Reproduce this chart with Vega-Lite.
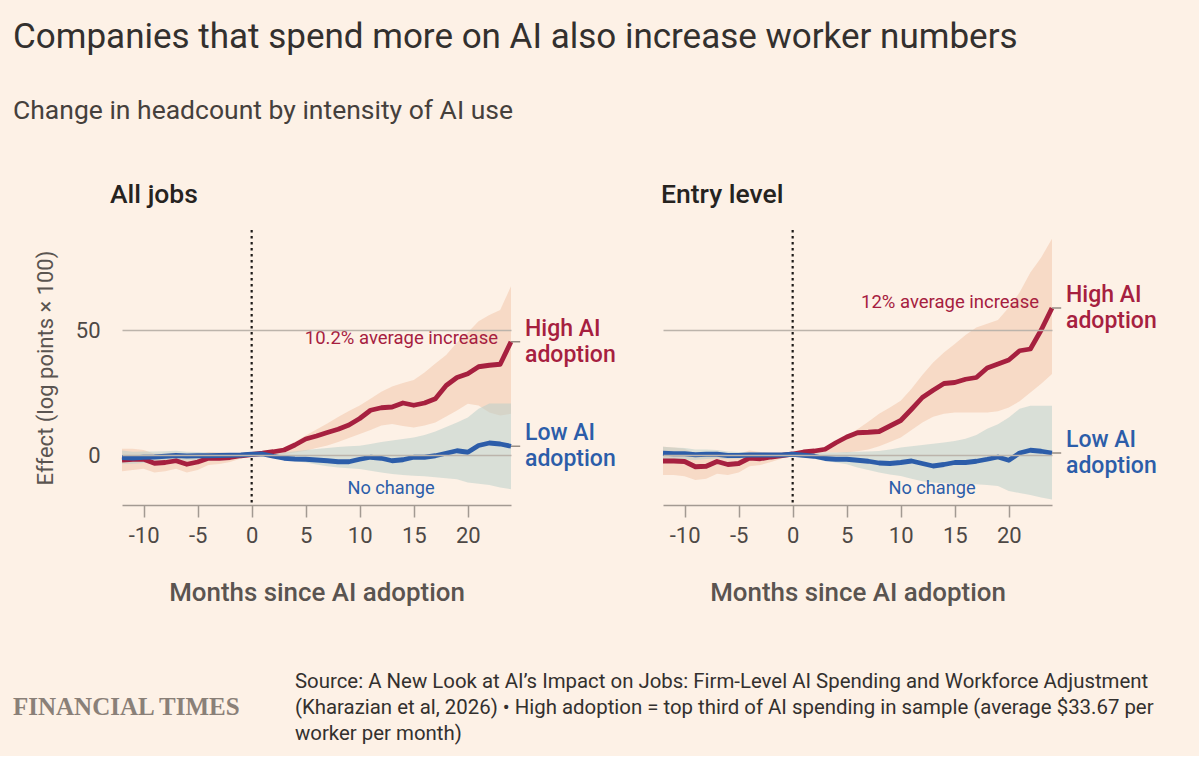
{
  "$schema": "https://vega.github.io/schema/vega-lite/v6.json",
  "background": "#fdf1e6",
  "padding": {"left": 13, "top": 19, "right": 42, "bottom": 11},
  "title": {
    "text": "Companies that spend more on AI also increase worker numbers",
    "subtitle": "Change in headcount by intensity of AI use",
    "anchor": "start",
    "font": "Roboto",
    "fontSize": 35,
    "fontWeight": "normal",
    "color": "#33302e",
    "subtitleFont": "Roboto",
    "subtitleFontSize": 26.5,
    "subtitleColor": "#45403c",
    "subtitlePadding": 43,
    "offset": 58
  },
  "config": {
    "view": {"stroke": null},
    "font": "Roboto",
    "axis": {"labelFont": "Roboto", "titleFont": "Roboto"},
    "title": {"font": "Roboto"}
  },
  "datasets": {
    "alljobs": [
      {"m": -12, "s": "High AI\nadoption", "est": -2, "lo": -6.5, "hi": 2.5},
      {"m": -11, "s": "High AI\nadoption", "est": -1.7, "lo": -6, "hi": 2.5},
      {"m": -10, "s": "High AI\nadoption", "est": -1.7, "lo": -5.5, "hi": 2},
      {"m": -9, "s": "High AI\nadoption", "est": -3.3, "lo": -7, "hi": 0.5},
      {"m": -8, "s": "High AI\nadoption", "est": -3, "lo": -6.5, "hi": 0.5},
      {"m": -7, "s": "High AI\nadoption", "est": -2.3, "lo": -5.5, "hi": 1},
      {"m": -6, "s": "High AI\nadoption", "est": -3.7, "lo": -7, "hi": -0.5},
      {"m": -5, "s": "High AI\nadoption", "est": -2.8, "lo": -6, "hi": 0.2},
      {"m": -4, "s": "High AI\nadoption", "est": -1.3, "lo": -4, "hi": 1.2},
      {"m": -3, "s": "High AI\nadoption", "est": -1.3, "lo": -3.6, "hi": 1},
      {"m": -2, "s": "High AI\nadoption", "est": -1, "lo": -2.8, "hi": 0.8},
      {"m": -1, "s": "High AI\nadoption", "est": -0.3, "lo": -1.4, "hi": 0.8},
      {"m": 0, "s": "High AI\nadoption", "est": 0.2, "lo": 0, "hi": 0.5},
      {"m": 1, "s": "High AI\nadoption", "est": 0.7, "lo": 0, "hi": 1.5},
      {"m": 2, "s": "High AI\nadoption", "est": 1.3, "lo": 0, "hi": 2.2},
      {"m": 3, "s": "High AI\nadoption", "est": 2, "lo": 0.3, "hi": 3},
      {"m": 4, "s": "High AI\nadoption", "est": 4, "lo": 1, "hi": 5.2},
      {"m": 5, "s": "High AI\nadoption", "est": 6.4, "lo": 1.7, "hi": 7.8},
      {"m": 6, "s": "High AI\nadoption", "est": 7.6, "lo": 2.8, "hi": 10.2},
      {"m": 7, "s": "High AI\nadoption", "est": 9, "lo": 3.8, "hi": 12.6},
      {"m": 8, "s": "High AI\nadoption", "est": 10.3, "lo": 5.2, "hi": 15.2},
      {"m": 9, "s": "High AI\nadoption", "est": 12, "lo": 6.8, "hi": 17.6},
      {"m": 10, "s": "High AI\nadoption", "est": 14.6, "lo": 8.4, "hi": 19.8},
      {"m": 11, "s": "High AI\nadoption", "est": 17.9, "lo": 10, "hi": 22.5},
      {"m": 12, "s": "High AI\nadoption", "est": 18.9, "lo": 11.8, "hi": 25.3},
      {"m": 13, "s": "High AI\nadoption", "est": 19.2, "lo": 12.4, "hi": 27.4},
      {"m": 14, "s": "High AI\nadoption", "est": 20.8, "lo": 11.6, "hi": 28.8},
      {"m": 15, "s": "High AI\nadoption", "est": 19.9, "lo": 11, "hi": 30},
      {"m": 16, "s": "High AI\nadoption", "est": 20.8, "lo": 11.8, "hi": 33},
      {"m": 17, "s": "High AI\nadoption", "est": 22.5, "lo": 13, "hi": 36.6},
      {"m": 18, "s": "High AI\nadoption", "est": 27.8, "lo": 15.4, "hi": 40},
      {"m": 19, "s": "High AI\nadoption", "est": 31, "lo": 17.8, "hi": 45},
      {"m": 20, "s": "High AI\nadoption", "est": 32.5, "lo": 20.5, "hi": 49},
      {"m": 21, "s": "High AI\nadoption", "est": 35.3, "lo": 19.8, "hi": 53.5},
      {"m": 22, "s": "High AI\nadoption", "est": 35.9, "lo": 17, "hi": 56},
      {"m": 23, "s": "High AI\nadoption", "est": 36.3, "lo": 15.8, "hi": 58},
      {"m": 24, "s": "High AI\nadoption", "est": 45.3, "lo": 16.5, "hi": 67.5},
      {"m": -12, "s": "Low AI\nadoption", "est": -1, "lo": -3.5, "hi": 1.8},
      {"m": -11, "s": "Low AI\nadoption", "est": -1.2, "lo": -3.5, "hi": 1.3},
      {"m": -10, "s": "Low AI\nadoption", "est": -0.9, "lo": -3.2, "hi": 1.4},
      {"m": -9, "s": "Low AI\nadoption", "est": -0.8, "lo": -3, "hi": 1.4},
      {"m": -8, "s": "Low AI\nadoption", "est": -0.5, "lo": -2.6, "hi": 1.5},
      {"m": -7, "s": "Low AI\nadoption", "est": -0.2, "lo": -2.2, "hi": 1.7},
      {"m": -6, "s": "Low AI\nadoption", "est": -0.4, "lo": -2.2, "hi": 1.3},
      {"m": -5, "s": "Low AI\nadoption", "est": -0.3, "lo": -1.9, "hi": 1.2},
      {"m": -4, "s": "Low AI\nadoption", "est": -0.3, "lo": -1.6, "hi": 1},
      {"m": -3, "s": "Low AI\nadoption", "est": -0.2, "lo": -1.3, "hi": 0.9},
      {"m": -2, "s": "Low AI\nadoption", "est": -0.1, "lo": -1, "hi": 0.8},
      {"m": -1, "s": "Low AI\nadoption", "est": 0, "lo": -0.6, "hi": 0.6},
      {"m": 0, "s": "Low AI\nadoption", "est": 0.3, "lo": 0, "hi": 0.6},
      {"m": 1, "s": "Low AI\nadoption", "est": 0.4, "lo": -0.5, "hi": 0.9},
      {"m": 2, "s": "Low AI\nadoption", "est": -0.5, "lo": -1.2, "hi": 0.8},
      {"m": 3, "s": "Low AI\nadoption", "est": -1.3, "lo": -1.8, "hi": 1},
      {"m": 4, "s": "Low AI\nadoption", "est": -1.6, "lo": -2.5, "hi": 1.5},
      {"m": 5, "s": "Low AI\nadoption", "est": -1.7, "lo": -3, "hi": 2},
      {"m": 6, "s": "Low AI\nadoption", "est": -2, "lo": -3.8, "hi": 2.4},
      {"m": 7, "s": "Low AI\nadoption", "est": -2.3, "lo": -4.5, "hi": 2.8},
      {"m": 8, "s": "Low AI\nadoption", "est": -2.7, "lo": -5, "hi": 3.2},
      {"m": 9, "s": "Low AI\nadoption", "est": -2.7, "lo": -5.3, "hi": 3.5},
      {"m": 10, "s": "Low AI\nadoption", "est": -1.7, "lo": -5.6, "hi": 3.7},
      {"m": 11, "s": "Low AI\nadoption", "est": -0.9, "lo": -6.3, "hi": 4.4},
      {"m": 12, "s": "Low AI\nadoption", "est": -1.3, "lo": -7, "hi": 5.2},
      {"m": 13, "s": "Low AI\nadoption", "est": -2.3, "lo": -7.6, "hi": 5.8},
      {"m": 14, "s": "Low AI\nadoption", "est": -1.9, "lo": -8, "hi": 6.4},
      {"m": 15, "s": "Low AI\nadoption", "est": -0.9, "lo": -8.3, "hi": 7},
      {"m": 16, "s": "Low AI\nadoption", "est": -0.9, "lo": -8.5, "hi": 8},
      {"m": 17, "s": "Low AI\nadoption", "est": -0.3, "lo": -8.9, "hi": 9.4},
      {"m": 18, "s": "Low AI\nadoption", "est": 0.7, "lo": -9.3, "hi": 11.2},
      {"m": 19, "s": "Low AI\nadoption", "est": 1.7, "lo": -9.7, "hi": 13},
      {"m": 20, "s": "Low AI\nadoption", "est": 1.1, "lo": -11, "hi": 15},
      {"m": 21, "s": "Low AI\nadoption", "est": 3.8, "lo": -11.5, "hi": 18.5},
      {"m": 22, "s": "Low AI\nadoption", "est": 4.8, "lo": -12, "hi": 20.6},
      {"m": 23, "s": "Low AI\nadoption", "est": 4.4, "lo": -13, "hi": 20.6},
      {"m": 24, "s": "Low AI\nadoption", "est": 3.5, "lo": -13.7, "hi": 20.6}
    ],
    "entry": [
      {"m": -12, "s": "High AI\nadoption", "est": -2.4, "lo": -8, "hi": 3.3},
      {"m": -11, "s": "High AI\nadoption", "est": -2.4, "lo": -8, "hi": 3},
      {"m": -10, "s": "High AI\nadoption", "est": -2.6, "lo": -8.5, "hi": 2.5},
      {"m": -9, "s": "High AI\nadoption", "est": -4.7, "lo": -10, "hi": 0.5},
      {"m": -8, "s": "High AI\nadoption", "est": -4.5, "lo": -9.5, "hi": 0.5},
      {"m": -7, "s": "High AI\nadoption", "est": -2.6, "lo": -7.5, "hi": 1.5},
      {"m": -6, "s": "High AI\nadoption", "est": -3.8, "lo": -8, "hi": 0.5},
      {"m": -5, "s": "High AI\nadoption", "est": -3.4, "lo": -7, "hi": 0.5},
      {"m": -4, "s": "High AI\nadoption", "est": -1.2, "lo": -4.5, "hi": 1.8},
      {"m": -3, "s": "High AI\nadoption", "est": -1.5, "lo": -4, "hi": 1.2},
      {"m": -2, "s": "High AI\nadoption", "est": -0.8, "lo": -2.8, "hi": 1},
      {"m": -1, "s": "High AI\nadoption", "est": -0.2, "lo": -1.4, "hi": 1},
      {"m": 0, "s": "High AI\nadoption", "est": 0.4, "lo": 0, "hi": 0.8},
      {"m": 1, "s": "High AI\nadoption", "est": 1.2, "lo": 0.3, "hi": 1.8},
      {"m": 2, "s": "High AI\nadoption", "est": 1.6, "lo": 0.6, "hi": 2.2},
      {"m": 3, "s": "High AI\nadoption", "est": 2.3, "lo": 1, "hi": 3},
      {"m": 4, "s": "High AI\nadoption", "est": 4.9, "lo": 1, "hi": 5},
      {"m": 5, "s": "High AI\nadoption", "est": 7.2, "lo": 1, "hi": 7.5},
      {"m": 6, "s": "High AI\nadoption", "est": 8.9, "lo": 1.5, "hi": 10.3},
      {"m": 7, "s": "High AI\nadoption", "est": 9.1, "lo": 2.2, "hi": 13.3},
      {"m": 8, "s": "High AI\nadoption", "est": 9.4, "lo": 3.5, "hi": 16.5},
      {"m": 9, "s": "High AI\nadoption", "est": 11.6, "lo": 5.2, "hi": 19},
      {"m": 10, "s": "High AI\nadoption", "est": 13.8, "lo": 7, "hi": 21.7},
      {"m": 11, "s": "High AI\nadoption", "est": 18.3, "lo": 10, "hi": 26.5},
      {"m": 12, "s": "High AI\nadoption", "est": 23, "lo": 13, "hi": 32},
      {"m": 13, "s": "High AI\nadoption", "est": 25.9, "lo": 15.3, "hi": 37},
      {"m": 14, "s": "High AI\nadoption", "est": 28.6, "lo": 16.5, "hi": 41},
      {"m": 15, "s": "High AI\nadoption", "est": 29, "lo": 17, "hi": 44.4},
      {"m": 16, "s": "High AI\nadoption", "est": 30.3, "lo": 17, "hi": 48},
      {"m": 17, "s": "High AI\nadoption", "est": 31, "lo": 17, "hi": 51},
      {"m": 18, "s": "High AI\nadoption", "est": 34.8, "lo": 17, "hi": 52.5},
      {"m": 19, "s": "High AI\nadoption", "est": 36.4, "lo": 17.5, "hi": 54},
      {"m": 20, "s": "High AI\nadoption", "est": 38, "lo": 19, "hi": 59},
      {"m": 21, "s": "High AI\nadoption", "est": 41.7, "lo": 21.5, "hi": 65},
      {"m": 22, "s": "High AI\nadoption", "est": 42.4, "lo": 25, "hi": 73},
      {"m": 23, "s": "High AI\nadoption", "est": 50, "lo": 28.5, "hi": 79},
      {"m": 24, "s": "High AI\nadoption", "est": 58.8, "lo": 32.4, "hi": 86.5},
      {"m": -12, "s": "Low AI\nadoption", "est": 0.7, "lo": -2, "hi": 3.3},
      {"m": -11, "s": "Low AI\nadoption", "est": 0.5, "lo": -2, "hi": 3},
      {"m": -10, "s": "Low AI\nadoption", "est": 0.5, "lo": -1.8, "hi": 2.8},
      {"m": -9, "s": "Low AI\nadoption", "est": 0.1, "lo": -2, "hi": 2.2},
      {"m": -8, "s": "Low AI\nadoption", "est": 0.3, "lo": -1.6, "hi": 2.2},
      {"m": -7, "s": "Low AI\nadoption", "est": 0.3, "lo": -1.4, "hi": 2},
      {"m": -6, "s": "Low AI\nadoption", "est": -0.2, "lo": -1.6, "hi": 1.4},
      {"m": -5, "s": "Low AI\nadoption", "est": -0.2, "lo": -1.4, "hi": 1.2},
      {"m": -4, "s": "Low AI\nadoption", "est": 0, "lo": -1, "hi": 1.2},
      {"m": -3, "s": "Low AI\nadoption", "est": 0, "lo": -0.8, "hi": 1},
      {"m": -2, "s": "Low AI\nadoption", "est": 0, "lo": -0.6, "hi": 0.8},
      {"m": -1, "s": "Low AI\nadoption", "est": 0, "lo": -0.4, "hi": 0.5},
      {"m": 0, "s": "Low AI\nadoption", "est": 0.3, "lo": 0, "hi": 0.6},
      {"m": 1, "s": "Low AI\nadoption", "est": -0.1, "lo": -1, "hi": 0.8},
      {"m": 2, "s": "Low AI\nadoption", "est": -0.5, "lo": -1.5, "hi": 1},
      {"m": 3, "s": "Low AI\nadoption", "est": -1.4, "lo": -2.4, "hi": 1},
      {"m": 4, "s": "Low AI\nadoption", "est": -1.7, "lo": -3, "hi": 1},
      {"m": 5, "s": "Low AI\nadoption", "est": -1.7, "lo": -3.7, "hi": 1.2},
      {"m": 6, "s": "Low AI\nadoption", "est": -2.1, "lo": -5, "hi": 1.3},
      {"m": 7, "s": "Low AI\nadoption", "est": -2.5, "lo": -6, "hi": 1.4},
      {"m": 8, "s": "Low AI\nadoption", "est": -3.2, "lo": -7, "hi": 1.6},
      {"m": 9, "s": "Low AI\nadoption", "est": -3.4, "lo": -7.8, "hi": 2.2},
      {"m": 10, "s": "Low AI\nadoption", "est": -3, "lo": -8.4, "hi": 3},
      {"m": 11, "s": "Low AI\nadoption", "est": -2.4, "lo": -9.5, "hi": 3.5},
      {"m": 12, "s": "Low AI\nadoption", "est": -3.4, "lo": -10.5, "hi": 4},
      {"m": 13, "s": "Low AI\nadoption", "est": -4.4, "lo": -11, "hi": 4.5},
      {"m": 14, "s": "Low AI\nadoption", "est": -3.8, "lo": -11.3, "hi": 5},
      {"m": 15, "s": "Low AI\nadoption", "est": -3, "lo": -11.7, "hi": 5.6},
      {"m": 16, "s": "Low AI\nadoption", "est": -3, "lo": -11.7, "hi": 6.5},
      {"m": 17, "s": "Low AI\nadoption", "est": -2.5, "lo": -11.7, "hi": 8},
      {"m": 18, "s": "Low AI\nadoption", "est": -1.7, "lo": -12, "hi": 10.5},
      {"m": 19, "s": "Low AI\nadoption", "est": -0.8, "lo": -12.4, "hi": 12.3},
      {"m": 20, "s": "Low AI\nadoption", "est": -2.1, "lo": -14.4, "hi": 15},
      {"m": 21, "s": "Low AI\nadoption", "est": 0.8, "lo": -15.2, "hi": 18.5},
      {"m": 22, "s": "Low AI\nadoption", "est": 1.9, "lo": -16, "hi": 19.7},
      {"m": 23, "s": "Low AI\nadoption", "est": 1.5, "lo": -17, "hi": 19.7},
      {"m": 24, "s": "Low AI\nadoption", "est": 0.8, "lo": -17.8, "hi": 19.7}
    ]
  },
  "vconcat": [
    {
      "hconcat": [
        {
          "width": 389,
          "height": 275,
          "data": {"name": "alljobs"},
          "title": {"text": "All jobs", "anchor": "start", "frame": "group", "fontSize": 26.5, "fontWeight": 500, "color": "#26231f", "offset": 20, "dx": -12},
          "encoding": {
            "x": {
              "field": "m", "type": "quantitative",
              "scale": {"domain": [-12, 24], "nice": false, "zero": false},
              "axis": {
                "values": [-10, -5, 0, 5, 10, 15, 20], "grid": false, "labelExpr": "'' + datum.value",
                "domainColor": "#a39a92", "domainWidth": 1.5, "tickColor": "#a39a92", "tickWidth": 1.5, "tickSize": 12,
                "labelFontSize": 22, "labelColor": "#4d4845", "labelPadding": 8,
                "title": "Months since AI adoption", "titleFontSize": 25.9, "titleFontWeight": 500, "titleColor": "#5a5450", "titlePadding": 34
              }
            },
            "y": {
              "type": "quantitative",
              "scale": {"domain": [-20, 90], "nice": false},
              "axis": {
                "values": [0, 50], "grid": true, "gridColor": "#bcb4ab", "gridWidth": 1.5, "domain": false, "ticks": false, "zindex": 1,
                "labelFontSize": 22, "labelColor": "#4d4845", "labelPadding": 22,
                "title": "Effect (log points × 100)", "titleFontSize": 22, "titleFontWeight": "normal", "titleColor": "#5a5450", "titlePadding": 18
              }
            }
          },
          "layer": [
            {
              "mark": {"type": "area", "opacity": 0.55},
              "encoding": {
                "y": {"field": "lo"},
                "y2": {"field": "hi"},
                "fill": {"field": "s", "type": "nominal", "legend": null,
                  "scale": {"domain": ["High AI\nadoption", "Low AI\nadoption"], "range": ["#f3c6ab", "#bcd0ca"]}}
              }
            },
            {
              "data": {"values": [{"m": 0}]},
              "mark": {"type": "rule", "strokeDash": [2.5, 3.5], "strokeWidth": 2.2, "color": "#1d1a18"},
              "encoding": {"x": {"field": "m", "type": "quantitative"}}
            },
            {
              "mark": {"type": "line", "strokeWidth": 4.8, "strokeJoin": "round"},
              "encoding": {
                "y": {"field": "est"},
                "stroke": {"field": "s", "type": "nominal", "legend": null,
                  "scale": {"domain": ["High AI\nadoption", "Low AI\nadoption"], "range": ["#a6203f", "#2c5da9"]}}
              }
            },
            {
              "transform": [{"filter": "datum.m == 24"}],
              "mark": {"type": "rule", "color": "#968d85", "strokeWidth": 1.5},
              "encoding": {"x": {"datum": 24}, "x2": {"datum": 24.85}, "y": {"field": "est"}}
            },
            {
              "transform": [{"filter": "datum.m == 24"}],
              "mark": {"type": "text", "align": "left", "baseline": "middle", "dx": 14, "dy": -13, "fontSize": 23, "fontWeight": 500, "lineBreak": "\n", "lineHeight": 26},
              "encoding": {
                "y": {"field": "est"},
                "text": {"field": "s"},
                "color": {"field": "s", "type": "nominal", "legend": null,
                  "scale": {"domain": ["High AI\nadoption", "Low AI\nadoption"], "range": ["#a6203f", "#2c5da9"]}}
              }
            },
            {
              "data": {"values": [{"note": "10.2% average increase", "nx": 22.8, "ny": 46.8}]},
              "mark": {"type": "text", "align": "right", "baseline": "middle", "fontSize": 18.5, "color": "#a6203f"},
              "encoding": {"x": {"field": "nx", "type": "quantitative"}, "y": {"field": "ny", "type": "quantitative"}, "text": {"field": "note"}}
            },
            {
              "data": {"values": [{"note": "No change", "nx": 12.9, "ny": -13.5}]},
              "mark": {"type": "text", "align": "center", "baseline": "middle", "fontSize": 18.2, "color": "#2c5da9"},
              "encoding": {"x": {"field": "nx", "type": "quantitative"}, "y": {"field": "ny", "type": "quantitative"}, "text": {"field": "note"}}
            }
          ]
        },
        {
          "width": 389,
          "height": 275,
          "data": {"name": "entry"},
          "title": {"text": "Entry level", "anchor": "start", "frame": "group", "fontSize": 26.5, "fontWeight": 500, "color": "#26231f", "offset": 20, "dx": -2},
          "encoding": {
            "x": {
              "field": "m", "type": "quantitative",
              "scale": {"domain": [-12, 24], "nice": false, "zero": false},
              "axis": {
                "values": [-10, -5, 0, 5, 10, 15, 20], "grid": false, "labelExpr": "'' + datum.value",
                "domainColor": "#a39a92", "domainWidth": 1.5, "tickColor": "#a39a92", "tickWidth": 1.5, "tickSize": 12,
                "labelFontSize": 22, "labelColor": "#4d4845", "labelPadding": 8,
                "title": "Months since AI adoption", "titleFontSize": 25.9, "titleFontWeight": 500, "titleColor": "#5a5450", "titlePadding": 34
              }
            },
            "y": {
              "type": "quantitative",
              "scale": {"domain": [-20, 90], "nice": false},
              "axis": {
                "values": [0, 50], "grid": true, "gridColor": "#bcb4ab", "gridWidth": 1.5, "domain": false, "ticks": false, "labels": false, "zindex": 1,
                "title": null
              }
            }
          },
          "layer": [
            {
              "mark": {"type": "area", "opacity": 0.55},
              "encoding": {
                "y": {"field": "lo"},
                "y2": {"field": "hi"},
                "fill": {"field": "s", "type": "nominal", "legend": null,
                  "scale": {"domain": ["High AI\nadoption", "Low AI\nadoption"], "range": ["#f3c6ab", "#bcd0ca"]}}
              }
            },
            {
              "data": {"values": [{"m": 0}]},
              "mark": {"type": "rule", "strokeDash": [2.5, 3.5], "strokeWidth": 2.2, "color": "#1d1a18"},
              "encoding": {"x": {"field": "m", "type": "quantitative"}}
            },
            {
              "mark": {"type": "line", "strokeWidth": 4.8, "strokeJoin": "round"},
              "encoding": {
                "y": {"field": "est"},
                "stroke": {"field": "s", "type": "nominal", "legend": null,
                  "scale": {"domain": ["High AI\nadoption", "Low AI\nadoption"], "range": ["#a6203f", "#2c5da9"]}}
              }
            },
            {
              "transform": [{"filter": "datum.m == 24"}],
              "mark": {"type": "rule", "color": "#968d85", "strokeWidth": 1.5},
              "encoding": {"x": {"datum": 24}, "x2": {"datum": 24.85}, "y": {"field": "est"}}
            },
            {
              "transform": [{"filter": "datum.m == 24"}],
              "mark": {"type": "text", "align": "left", "baseline": "middle", "dx": 14, "dy": -13, "fontSize": 23, "fontWeight": 500, "lineBreak": "\n", "lineHeight": 26},
              "encoding": {
                "y": {"field": "est"},
                "text": {"field": "s"},
                "color": {"field": "s", "type": "nominal", "legend": null,
                  "scale": {"domain": ["High AI\nadoption", "Low AI\nadoption"], "range": ["#a6203f", "#2c5da9"]}}
              }
            },
            {
              "data": {"values": [{"note": "12% average increase", "nx": 22.8, "ny": 61.3}]},
              "mark": {"type": "text", "align": "right", "baseline": "middle", "fontSize": 18.5, "color": "#a6203f"},
              "encoding": {"x": {"field": "nx", "type": "quantitative"}, "y": {"field": "ny", "type": "quantitative"}, "text": {"field": "note"}}
            },
            {
              "data": {"values": [{"note": "No change", "nx": 12.9, "ny": -13.5}]},
              "mark": {"type": "text", "align": "center", "baseline": "middle", "fontSize": 18.2, "color": "#2c5da9"},
              "encoding": {"x": {"field": "nx", "type": "quantitative"}, "y": {"field": "ny", "type": "quantitative"}, "text": {"field": "note"}}
            }
          ]
        }
      ],
      "spacing": 44
    },
    {
      "hconcat": [
        {
          "width": 1,
          "height": 1,
          "data": {"values": []},
          "mark": "text",
          "title": {"text": "FINANCIAL TIMES", "anchor": "start", "frame": "group", "font": "Liberation Serif", "fontSize": 25, "fontWeight": "bold", "color": "#8a8078", "dx": -109, "dy": -24, "offset": 0}
        },
        {
          "width": 1,
          "height": 1,
          "data": {"values": []},
          "mark": "text",
          "title": {
            "text": [
              "Source: A New Look at AI’s Impact on Jobs: Firm-Level AI Spending and Workforce Adjustment",
              "(Kharazian et al, 2026) • High adoption = top third of AI spending in sample (average $33.67 per",
              "worker per month)"
            ],
            "anchor": "start", "frame": "group", "fontSize": 20.4, "fontWeight": "normal", "color": "#33302e", "lineHeight": 26, "offset": 0
          }
        }
      ],
      "spacing": 53
    }
  ],
  "spacing": 66
}
